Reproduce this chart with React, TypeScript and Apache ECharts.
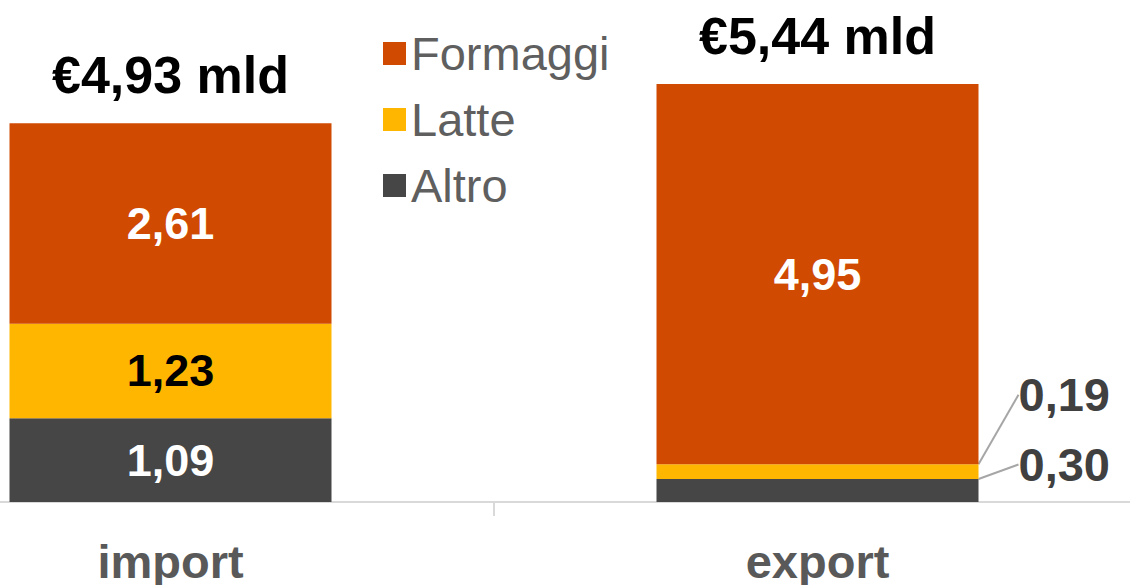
import React, { useEffect, useRef } from "react";
import * as echarts from "echarts";

const categories = ["import", "export"];
const formaggi = [2.61, 4.95];
const latte = [1.23, 0.19];
const altro = [1.09, 0.3];
const totals = ["€4,93 mld", "€5,44 mld"];

const FONT = "'Liberation Sans', Arial, sans-serif";
const fmt = (v: number) => v.toFixed(2).replace(".", ",");
const SHIFT = 153;

export default function App() {
  const ref = useRef<HTMLDivElement>(null);
  useEffect(() => {
    if (!ref.current) return;
    document.body.style.overflow = "hidden";
    const chart = echarts.init(ref.current, null, { renderer: "svg" });
    const outsideLayout = (dy: number) => (params: any) => {
      if (params.dataIndex !== 1) return {};
      const r = params.rect;
      return {
        x: r.x + r.width + 40,
        y: r.y + r.height / 2 + dy,
        align: "left",
        verticalAlign: "middle",
      };
    };
    chart.setOption({
      animation: false,
      backgroundColor: "#ffffff",
      grid: { left: 0, right: 0, top: 41, bottom: 81 },
      legend: {
        data: ["Formaggi", "Latte", "Altro"],
        orient: "vertical",
        left: 378 + SHIFT,
        top: 25,
        itemWidth: 23,
        itemHeight: 23,
        itemGap: 19,
        icon: "rect",
        textStyle: { fontFamily: FONT, fontSize: 47, color: "#5f5f5f" },
      },
      xAxis: {
        type: "category",
        data: categories,
        axisLine: { lineStyle: { color: "#d9d9d9", width: 2 } },
        axisTick: { show: true, length: 14, lineStyle: { color: "#d9d9d9", width: 2 } },
        axisLabel: {
          fontFamily: FONT,
          fontSize: 47,
          fontWeight: "bold",
          color: "#595959",
          margin: 36,
        },
      },
      yAxis: { type: "value", min: 0, max: 6, show: false },
      series: [
        {
          name: "Altro",
          type: "bar",
          stack: "s",
          barWidth: 322,
          data: [altro[0], { value: altro[1], label: { color: "#404040", fontSize: 47 } }],
          itemStyle: { color: "#464646" },
          label: {
            show: true,
            position: "inside",
            formatter: (p: any) => fmt(p.value),
            fontFamily: FONT,
            fontSize: 45,
            fontWeight: "bold",
            color: "#ffffff",
          },
          labelLayout: outsideLayout(-26),
          labelLine: { show: true, lineStyle: { color: "#a6a6a6", width: 2 } },
          emphasis: { disabled: true },
        },
        {
          name: "Latte",
          type: "bar",
          stack: "s",
          data: [latte[0], { value: latte[1], label: { color: "#404040", fontSize: 47 } }],
          itemStyle: { color: "#ffb600" },
          label: {
            show: true,
            position: "inside",
            formatter: (p: any) => fmt(p.value),
            fontFamily: FONT,
            fontSize: 45,
            fontWeight: "bold",
            color: "#000000",
          },
          labelLayout: outsideLayout(-77),
          labelLine: { show: true, lineStyle: { color: "#a6a6a6", width: 2 } },
          emphasis: { disabled: true },
        },
        {
          name: "Formaggi",
          type: "bar",
          stack: "s",
          data: formaggi,
          itemStyle: { color: "#d04a02" },
          label: {
            show: true,
            position: "inside",
            formatter: (p: any) => fmt(p.value),
            fontFamily: FONT,
            fontSize: 45,
            fontWeight: "bold",
            color: "#ffffff",
          },
          emphasis: { disabled: true },
        },
        {
          name: "Totale",
          type: "bar",
          stack: "s",
          data: [0, 0],
          itemStyle: { color: "transparent" },
          label: {
            show: true,
            position: "top",
            distance: 22,
            formatter: (p: any) => totals[p.dataIndex],
            fontFamily: FONT,
            fontSize: 52,
            fontWeight: "bold",
            color: "#000000",
          },
          emphasis: { disabled: true },
        },
      ],
    });
    return () => chart.dispose();
  }, []);
  return (
    <div
      ref={ref}
      style={{ position: "fixed", left: -SHIFT, top: 0, width: 1294, height: 585 }}
    />
  );
}
